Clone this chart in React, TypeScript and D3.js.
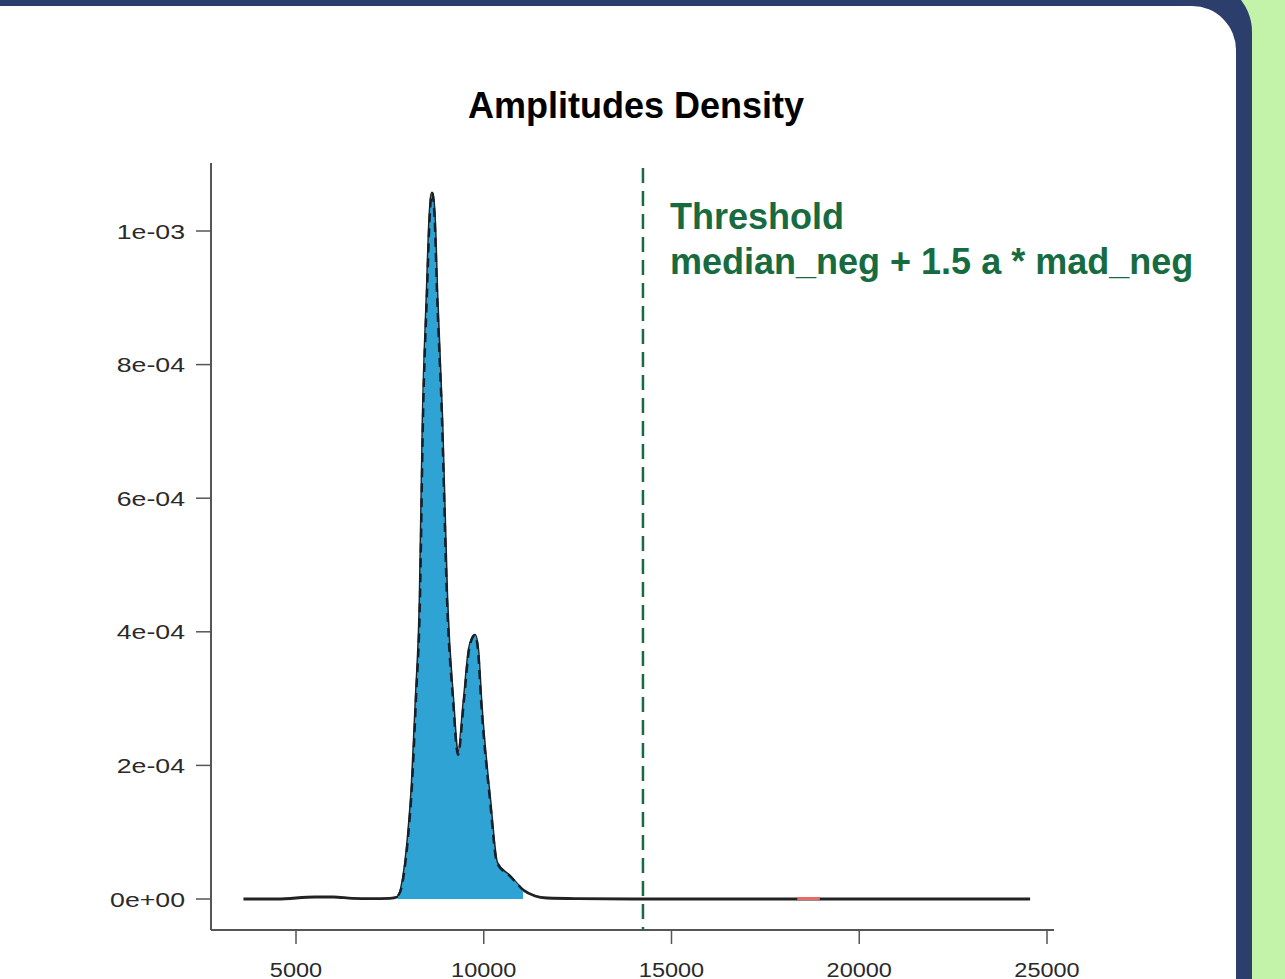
import React from "react";
import * as d3 from "d3";

const densityX = [3600, 4500, 5500, 6000, 6500, 7000, 7500, 7700, 7800, 7880, 7980, 8089, 8196, 8302, 8382, 8489, 8560, 8622, 8690, 8755, 8888, 9021, 9181, 9314, 9474, 9607, 9690, 9767, 9850, 9927, 10166, 10353, 10700, 11045, 11365, 11685, 12500, 14000, 16000, 18000, 20000, 22000, 24550];
const densityY = [0, 0, 0.000003, 0.000003, 0.000001, 0.0000005, 0.000001, 0.000003, 0.000015, 0.00004, 0.00009, 0.00017, 0.0003, 0.000448, 0.000717, 0.000907, 0.00102, 0.001057, 0.00102, 0.000907, 0.000717, 0.000448, 0.000298, 0.000216, 0.000298, 0.000373, 0.00039, 0.000395, 0.00037, 0.000298, 0.000148, 0.000054, 0.000034, 0.0000135, 0.0000045, 0.0000015, 0.0000005, 0, 0, 0, 0, 0, 0];

const fillRange = [7716, 11045];
const redRange = [18350, 18950];
const threshold = 14240;

const xTicks = [5000, 10000, 15000, 20000, 25000];
const yTicks = [0, 0.0002, 0.0004, 0.0006, 0.0008, 0.001];
const yTickLabels = ["0e+00", "2e-04", "4e-04", "6e-04", "8e-04", "1e-03"];

const title = "Amplitudes Density";
const thresholdLines = ["Threshold", "median_neg + 1.5 a * mad_neg"];

export default function App() {
  const x = d3.scaleLinear().domain([5000, 25000]).range([296, 1047]);
  const y = d3.scaleLinear().domain([0, 0.001]).range([899, 231]);

  const pts: [number, number][] = densityX.map((d, i) => [d, densityY[i]]);
  const line = d3
    .line<[number, number]>()
    .x((d) => x(d[0]))
    .y((d) => y(d[1]))
    .curve(d3.curveMonotoneX);

  const interp = (v: number) => {
    for (let i = 0; i < densityX.length - 1; i++) {
      if (v >= densityX[i] && v <= densityX[i + 1]) {
        const t = (v - densityX[i]) / (densityX[i + 1] - densityX[i]);
        return densityY[i] + t * (densityY[i + 1] - densityY[i]);
      }
    }
    return 0;
  };
  const fillPts: [number, number][] = [
    [fillRange[0], interp(fillRange[0])],
    ...pts.filter((p) => p[0] > fillRange[0] && p[0] < fillRange[1]),
    [fillRange[1], interp(fillRange[1])],
  ];
  const area = d3
    .area<[number, number]>()
    .x((d) => x(d[0]))
    .y0(y(0))
    .y1((d) => y(d[1]))
    .curve(d3.curveMonotoneX);

  const font = "'Liberation Sans', Arial, Helvetica, sans-serif";
  const green = "#176b40";

  return (
    <svg width={1285} height={979} style={{ position: "absolute", left: 0, top: 0 }}>
      <rect x={0} y={0} width={1285} height={979} fill="#c3f3a9" />
      <rect x={-60} y={-20} width={1312} height={1100} rx={52} ry={52} fill="#2c3e6c" />
      <rect x={-60} y={6} width={1296} height={1100} rx={44} ry={44} fill="#ffffff" />

      <text x={636} y={118} textAnchor="middle" fontFamily={font} fontWeight="bold" fontSize={36} fill="#000">
        {title}
      </text>

      {/* axes */}
      <line x1={211} y1={163} x2={211} y2={930} stroke="#555" strokeWidth={2} />
      <line x1={211} y1={930} x2={1054} y2={930} stroke="#555" strokeWidth={2} />
      {yTicks.map((t, i) => (
        <g key={"y" + i}>
          <line x1={196} x2={211} y1={y(t)} y2={y(t)} stroke="#555" strokeWidth={1.5} />
          <text
            transform={`translate(185,${y(t) + 7.5}) scale(1.27,1)`}
            textAnchor="end"
            fontFamily={font}
            fontSize={21}
            fill="#2a2a2a"
          >
            {yTickLabels[i]}
          </text>
        </g>
      ))}
      {xTicks.map((t, i) => (
        <g key={"x" + i}>
          <line x1={x(t)} x2={x(t)} y1={930} y2={944} stroke="#555" strokeWidth={1.5} />
          <text
            transform={`translate(${x(t)},977) scale(1.12,1)`}
            textAnchor="middle"
            fontFamily={font}
            fontSize={21}
            fill="#2a2a2a"
          >
            {String(t)}
          </text>
        </g>
      ))}

      {/* density */}
      <path d={line(pts) || ""} fill="none" stroke="#222" strokeWidth={2.8} />
      <path d={area(fillPts) || ""} fill="#2fa3d3" />
      <path
        d={line(fillPts) || ""}
        fill="none"
        stroke="#14202c"
        strokeWidth={2.4}
        strokeDasharray="9 6"
      />
      <line
        x1={x(redRange[0])}
        x2={x(redRange[1])}
        y1={y(0) - 0.5}
        y2={y(0) - 0.5}
        stroke="#e86a6a"
        strokeWidth={3}
      />

      {/* threshold */}
      <line
        x1={x(threshold)}
        x2={x(threshold)}
        y1={168}
        y2={930}
        stroke={green}
        strokeWidth={2.5}
        strokeDasharray="15 8"
      />
      <text fontFamily={font} fontWeight="bold" fontSize={36} fill={green}>
        <tspan x={670} y={229}>{thresholdLines[0]}</tspan>
        <tspan x={670} y={274}>{thresholdLines[1]}</tspan>
      </text>
    </svg>
  );
}
